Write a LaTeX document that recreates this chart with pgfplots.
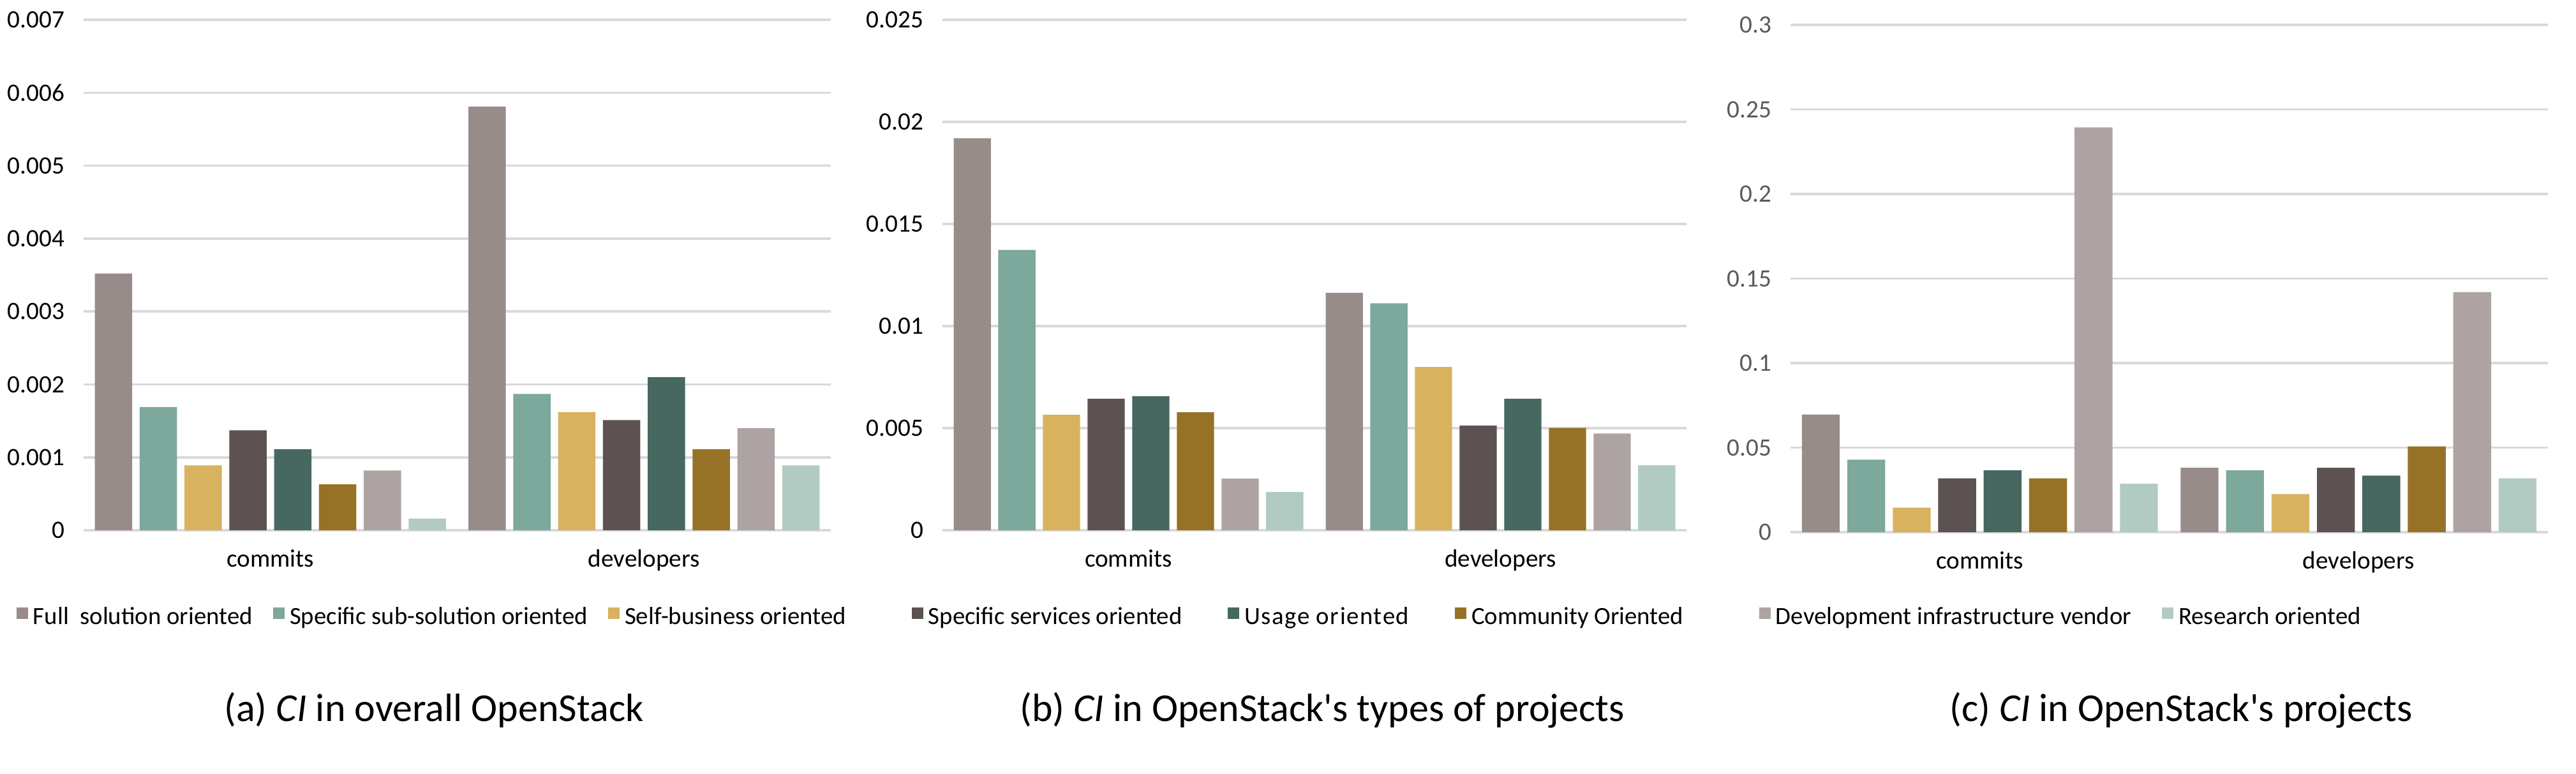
\documentclass[border=0pt]{standalone}
\usepackage{fontspec}
\setmainfont{Carlito}
\usepackage{pgfplots}
\pgfplotsset{compat=1.18}
\definecolor{c1}{HTML}{978C89}
\definecolor{c2}{HTML}{7DA89C}
\definecolor{c3}{HTML}{D8B25E}
\definecolor{c4}{HTML}{5B5251}
\definecolor{c5}{HTML}{466860}
\definecolor{c6}{HTML}{967226}
\definecolor{c7}{HTML}{ACA3A2}
\definecolor{c8}{HTML}{B1CBC3}
\definecolor{gridc}{HTML}{D9D9D9}
\definecolor{tickc}{HTML}{595959}
\pgfplotsset{
  mybar/.style={
    scale only axis,
    anchor=south west,
    ybar, bar width=0.1,
    xmin=-0.5, xmax=1.5,
    xtick={0,1}, xticklabels={commits,developers},
    ymin=0,
    scaled y ticks=false,
    axis line style={draw=none},
    major tick length=0pt,
    ymajorgrids, grid style={gridc, line width=0.9pt},
    tick label style={font=\fontsize{9.8}{11}\selectfont},
    yticklabel style={xshift=-4pt},
    xticklabel style={yshift=-4pt},
    clip=false,
    legend style={draw=none, fill=none, inner sep=0pt, outer sep=0pt,
      font=\fontsize{9.7}{11}\selectfont, legend columns=-1, anchor=west,
      /tikz/every even column/.append style={column sep=6pt}},
    legend image code/.code={\fill[##1] (0pt,-0.5pt) rectangle (4.5pt,4pt);},
  },
  s1/.style={fill=c1, draw=none, bar shift=-0.42},
  s2/.style={fill=c2, draw=none, bar shift=-0.30},
  s3/.style={fill=c3, draw=none, bar shift=-0.18},
  s4/.style={fill=c4, draw=none, bar shift=-0.06},
  s5/.style={fill=c5, draw=none, bar shift=0.06},
  s6/.style={fill=c6, draw=none, bar shift=0.18},
  s7/.style={fill=c7, draw=none, bar shift=0.30},
  s8/.style={fill=c8, draw=none, bar shift=0.42},
}
\begin{document}
\begin{tikzpicture}
\path[use as bounding box] (0pt,0pt) rectangle (1009.25pt,303pt);
% (a)
\begin{axis}[mybar, at={(32.75pt,95.25pt)}, width=292.75pt, height=200pt,
  ymax=0.007, ytick={0,0.001,0.002,0.003,0.004,0.005,0.006,0.007},
  yticklabels={0,0.001,0.002,0.003,0.004,0.005,0.006,0.007},
  legend style={at={(axis description cs:-0.0897,-0.171)}}]
\addplot[s1] coordinates {(0,0.00352) (1,0.00581)};
\addlegendentry{Full~~solution oriented}
\addplot[s2] coordinates {(0,0.00169) (1,0.00187)};
\addlegendentry{Specific sub-solution oriented}
\addplot[s3] coordinates {(0,0.00089) (1,0.00162)};
\addlegendentry{Self-business oriented}
\addplot[s4, forget plot] coordinates {(0,0.00137) (1,0.00151)};
\addplot[s5, forget plot] coordinates {(0,0.00111) (1,0.00210)};
\addplot[s6, forget plot] coordinates {(0,0.00063) (1,0.00111)};
\addplot[s7, forget plot] coordinates {(0,0.00082) (1,0.00140)};
\addplot[s8, forget plot] coordinates {(0,0.00016) (1,0.00089)};
\end{axis}
% (b)
\begin{axis}[mybar, at={(369.25pt,95.25pt)}, width=291.5pt, height=200pt,
  ymax=0.025, ytick={0,0.005,0.01,0.015,0.02,0.025},
  yticklabels={0,0.005,0.01,0.015,0.02,0.025},
  legend style={at={(axis description cs:-0.0412,-0.171)},
    /tikz/every even column/.append style={column sep=16pt}}]
\addplot[s1, forget plot] coordinates {(0,0.01920) (1,0.01163)};
\addplot[s2, forget plot] coordinates {(0,0.01373) (1,0.01111)};
\addplot[s3, forget plot] coordinates {(0,0.00565) (1,0.00800)};
\addplot[s4] coordinates {(0,0.00644) (1,0.00513)};
\addlegendentry{Specific services oriented}
\addplot[s5] coordinates {(0,0.00657) (1,0.00644)};
\addlegendentry{\addfontfeature{LetterSpace=4}Usage oriented}
\addplot[s6] coordinates {(0,0.00578) (1,0.00501)};
\addlegendentry{Community Oriented}
\addplot[s7, forget plot] coordinates {(0,0.00253) (1,0.00474)};
\addplot[s8, forget plot] coordinates {(0,0.00187) (1,0.00318)};
\end{axis}
% (c)
\begin{axis}[mybar, at={(701.5pt,94.5pt)}, width=296.75pt, height=198.75pt,
  ymax=0.3, ytick={0,0.05,0.1,0.15,0.2,0.25,0.3},
  yticklabels={0,0.05,0.1,0.15,0.2,0.25,0.3},
  yticklabel style={text=tickc},
  legend style={at={(axis description cs:-0.0413,-0.1686)},
    /tikz/every even column/.append style={column sep=10pt}}]
\addplot[s1, forget plot] coordinates {(0,0.0696) (1,0.0381)};
\addplot[s2, forget plot] coordinates {(0,0.0429) (1,0.0366)};
\addplot[s3, forget plot] coordinates {(0,0.0145) (1,0.0225)};
\addplot[s4, forget plot] coordinates {(0,0.0318) (1,0.0381)};
\addplot[s5, forget plot] coordinates {(0,0.0366) (1,0.0334)};
\addplot[s6, forget plot] coordinates {(0,0.0318) (1,0.0507)};
\addplot[s7] coordinates {(0,0.2394) (1,0.1419)};
\addlegendentry{Development infrastructure vendor}
\addplot[s8] coordinates {(0,0.0286) (1,0.0318)};
\addlegendentry{Research oriented}
\end{axis}
\node[font=\fontsize{15.5}{17}\selectfont] at (170pt,24.75pt) {(a) \textit{CI} in overall OpenStack};
\node[font=\fontsize{15.5}{17}\selectfont] at (518pt,24.75pt) {(b) \textit{CI} in OpenStack\textquotesingle s types of projects};
\node[font=\fontsize{15.5}{17}\selectfont] at (854.6pt,24.75pt) {(c) \textit{CI} in OpenStack\textquotesingle s projects};
\end{tikzpicture}
\end{document}
